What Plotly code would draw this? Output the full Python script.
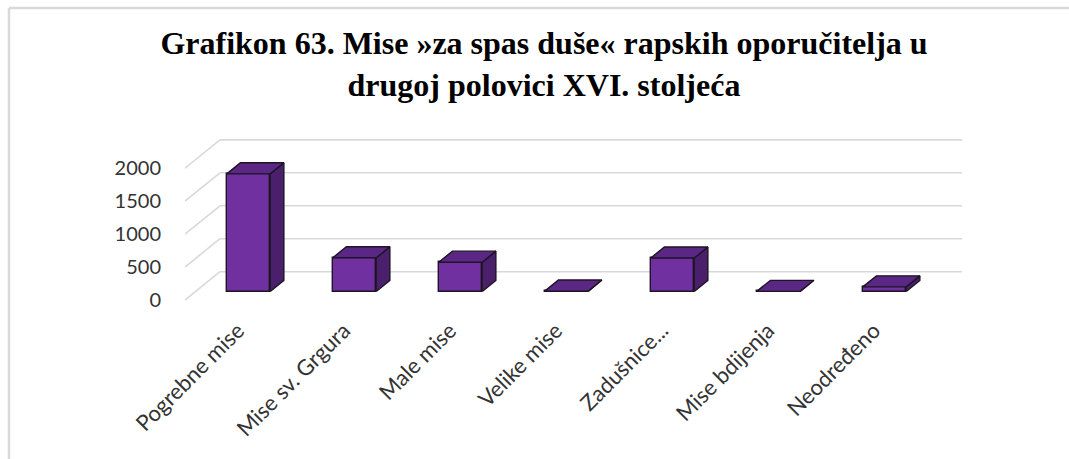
import plotly.graph_objects as go

# ---- data -------------------------------------------------------------
categories = ["Pogrebne mise", "Mise sv. Grgura", "Male mise", "Velike mise",
              "Zadušnice...", "Mise bdijenja", "Neodređeno"]
values = [1785, 512, 445, 6, 508, 2, 70]
y_ticks = [0, 500, 1000, 1500, 2000]
title_text = ("Grafikon 63. Mise »za spas duše« rapskih oporučitelja u"
              "<br>drugoj polovici XVI. stoljeća")

# ---- figure geometry --------------------------------------------------
W, H = 1069, 459
M_L, M_R, M_T, M_B = 185, 105, 139, 157
PLOT_W, PLOT_H = W - M_L - M_R, H - M_T - M_B
X_RANGE = [-0.5, -0.5 + PLOT_W / 106.0]
Y_RANGE = [-30, 2443]
WALL_END_X = 6.83

# oblique 3-D look: offset of the back wall relative to the front plane
WALL_DX, WALL_DY = 0.33, 430.0
BAR_FRONT, BAR_BACK = 0.30, 0.69      # depth fractions of a column
HALF_W = 0.205                        # half width of a column (x units)

FRONT = "#7030A0"
TOP = "#5A2785"
SIDE = "#4A1F6C"
EDGE = "#1E1424"
GRID = "#D9D9D9"

fig = go.Figure()

# front faces of the columns
fx = [i + BAR_FRONT * WALL_DX for i in range(len(values))]
fbase = BAR_FRONT * WALL_DY
fig.add_trace(go.Bar(
    x=fx, y=values, base=[fbase] * len(values), width=2 * HALF_W,
    marker=dict(color=FRONT, line=dict(color=EDGE, width=1.4)),
    hoverinfo="skip", showlegend=False,
))

# top and right faces
ddx = (BAR_BACK - BAR_FRONT) * WALL_DX
ddy = (BAR_BACK - BAR_FRONT) * WALL_DY
top_x, top_y, side_x, side_y = [], [], [], []
for cx, v in zip(fx, values):
    x0, x1 = cx - HALF_W, cx + HALF_W
    y0, y1 = fbase, fbase + v
    top_x += [x0, x1, x1 + ddx, x0 + ddx, x0, None]
    top_y += [y1, y1, y1 + ddy, y1 + ddy, y1, None]
    side_x += [x1, x1 + ddx, x1 + ddx, x1, x1, None]
    side_y += [y0, y0 + ddy, y1 + ddy, y1, y0, None]

for px, py, col in [(side_x, side_y, SIDE), (top_x, top_y, TOP)]:
    fig.add_trace(go.Scatter(
        x=px, y=py, mode="lines", fill="toself", fillcolor=col,
        line=dict(color=EDGE, width=1.4), hoverinfo="skip", showlegend=False,
    ))

# back wall and side wall gridlines
shapes = []
for g in y_ticks:
    shapes.append(dict(type="line", xref="x", yref="y", layer="below",
                       x0=X_RANGE[0] + WALL_DX, y0=g + WALL_DY,
                       x1=WALL_END_X, y1=g + WALL_DY,
                       line=dict(color=GRID, width=1.6)))
    shapes.append(dict(type="line", xref="x", yref="y", layer="below",
                       x0=X_RANGE[0], y0=g,
                       x1=X_RANGE[0] + WALL_DX, y1=g + WALL_DY,
                       line=dict(color=GRID, width=1.6)))

# chart border (top and left edges)
def paper_x(px):
    return (px - M_L) / PLOT_W

def paper_y(py):
    return (H - M_B - py) / PLOT_H

shapes.append(dict(type="line", xref="paper", yref="paper",
                   x0=paper_x(9), y0=paper_y(8), x1=paper_x(W + 5), y1=paper_y(8),
                   line=dict(color=GRID, width=2.5)))
shapes.append(dict(type="line", xref="paper", yref="paper",
                   x0=paper_x(9), y0=paper_y(8), x1=paper_x(9), y1=paper_y(H + 5),
                   line=dict(color=GRID, width=2.5)))

fig.update_layout(
    width=W, height=H, autosize=False,
    margin=dict(l=M_L, r=M_R, t=M_T, b=M_B, pad=0),
    paper_bgcolor="white", plot_bgcolor="rgba(0,0,0,0)",
    shapes=shapes,
    title=dict(text=title_text, x=544 / W, xref="container", xanchor="center",
               y=1 - 54 / H, yref="container", yanchor="top",
               font=dict(family="Liberation Serif", size=32, color="#000000",
                         weight="bold")),
    xaxis=dict(range=X_RANGE, tickmode="array",
               tickvals=list(range(len(categories))), ticktext=categories,
               tickangle=-45, showgrid=False, zeroline=False, showline=False,
               ticks="outside", ticklen=6, tickcolor="rgba(0,0,0,0)",
               tickfont=dict(family="Lato", size=22, color="#333333")),
    yaxis=dict(range=Y_RANGE, tickmode="array", tickvals=y_ticks,
               showgrid=False, zeroline=False, showline=False,
               ticks="outside", ticklen=19, tickcolor="rgba(0,0,0,0)",
               tickfont=dict(family="Lato", size=20, color="#333333")),
    bargap=0,
)

fig.write_html("out.html")
